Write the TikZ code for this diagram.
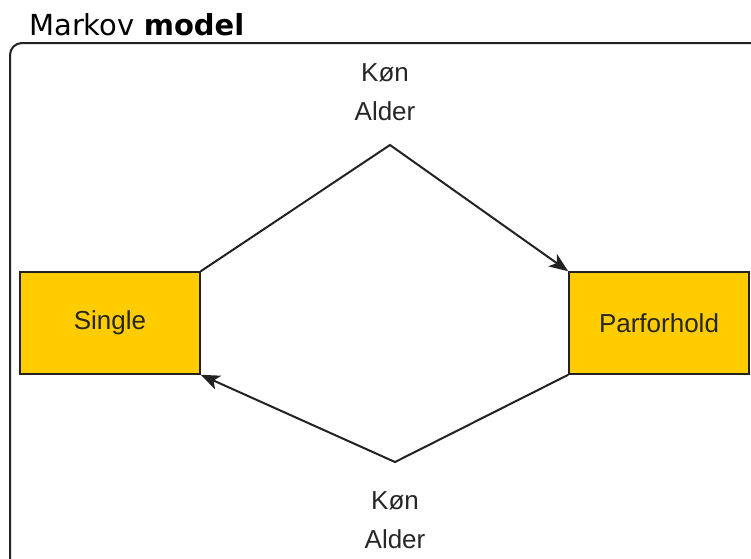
\documentclass[tikz,border=0pt]{standalone}
\usepackage{fontspec}
\setmainfont{Liberation Sans}
\newfontfamily\titlefont{DejaVu Sans}
\usetikzlibrary{arrows.meta}
\definecolor{boxfill}{HTML}{FFCC00}
\definecolor{linegray}{HTML}{222222}
\tikzset{
  state/.style={draw=linegray, line width=1.6pt, fill=boxfill, minimum width=180pt, minimum height=102pt, inner sep=0pt, font=\fontsize{26}{30}\selectfont, text=black!85},
  conn/.style={draw=linegray, line width=2pt, -{Stealth[length=19pt,width=15pt,inset=5pt]}},
  lbl/.style={font=\fontsize{26}{39}\selectfont, align=center, text=black!85},
}
\begin{document}
\begin{tikzpicture}[x=1pt,y=-1pt]
\useasboundingbox (0,0) rectangle (751,558);
\begin{scope}
\clip (0,0) rectangle (751,558);
\draw[linegray, line width=2pt, rounded corners=12pt] (10,43) rectangle (780,590);
\end{scope}
\node[anchor=base west, font=\titlefont\fontsize{29}{32}\selectfont, inner sep=0pt] (title) at (29,35) {Markov \textbf{model}};
\node[state] (s) at (110,323) {Single};
\node[state] (p) at (659,323) {Parforhold};
\coordinate (top) at (390,145);
\coordinate (bot) at (395,462);
\node[lbl] (tl) at (385,92) {Køn\\Alder};
\node[lbl] (bl) at (395,520) {Køn\\Alder};
\draw[conn] (s.north east) -- (top) -- (p.north west);
\draw[conn] (p.south west) -- (bot) -- (s.south east);
\end{tikzpicture}
\end{document}
